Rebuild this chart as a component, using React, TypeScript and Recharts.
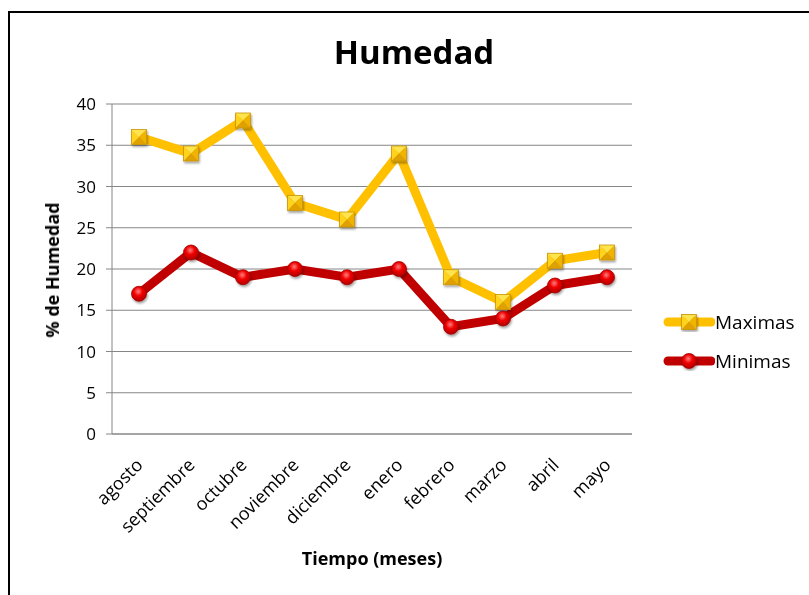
import React from "react";
import { LineChart, Line, XAxis, YAxis, CartesianGrid } from "recharts";

const months = ["agosto", "septiembre", "octubre", "noviembre", "diciembre", "enero", "febrero", "marzo", "abril", "mayo"];
const maximas = [36, 34, 38, 28, 26, 34, 19, 16, 21, 22];
const minimas = [17, 22, 19, 20, 19, 20, 13, 14, 18, 19];
const yTicks = [0, 5, 10, 15, 20, 25, 30, 35, 40];
const seriesNames = ["Maximas", "Minimas"];

const data = months.map((m, i) => ({ mes: m, Maximas: maximas[i], Minimas: minimas[i] }));

const FONT = "'Open Sans', 'Noto Sans', sans-serif";
const YELLOW = "#FFC000";
const RED = "#C00000";

const SquareMark = ({ cx, cy, s = 7.5 }: { cx: number; cy: number; s?: number }) => (
  <g filter="url(#shadow)">
    <polygon points={`${cx - s},${cy - s} ${cx + s},${cy - s} ${cx},${cy}`} fill="#FFE44D" />
    <polygon points={`${cx - s},${cy - s} ${cx - s},${cy + s} ${cx},${cy}`} fill="#FFD21A" />
    <polygon points={`${cx + s},${cy - s} ${cx + s},${cy + s} ${cx},${cy}`} fill="#F0B400" />
    <polygon points={`${cx - s},${cy + s} ${cx + s},${cy + s} ${cx},${cy}`} fill="#E0A000" />
    <rect x={cx - s} y={cy - s} width={2 * s} height={2 * s} fill="none" stroke="#C99400" strokeWidth={0.8} />
  </g>
);

const CircleMark = ({ cx, cy, r = 7.5 }: { cx: number; cy: number; r?: number }) => (
  <g filter="url(#shadow)">
    <circle cx={cx} cy={cy} r={r} fill="url(#redGrad)" stroke="#A00000" strokeWidth={0.8} />
  </g>
);

const Defs = () => (
  <defs>
    <radialGradient id="redGrad" cx="45%" cy="35%" r="65%">
      <stop offset="0%" stopColor="#FF8080" />
      <stop offset="45%" stopColor="#F00000" />
      <stop offset="100%" stopColor="#B00000" />
    </radialGradient>
    <filter id="shadow" x="-50%" y="-50%" width="200%" height="200%">
      <feDropShadow dx="1" dy="2" stdDeviation="1.2" floodColor="#000" floodOpacity="0.35" />
    </filter>
  </defs>
);

const XTick = (props: any) => {
  const { x, y, payload } = props;
  const ax = x + 5;
  const ay = y + 24;
  return (
    <text x={ax} y={ay} textAnchor="end" transform={`rotate(-45, ${ax}, ${ay})`} fontSize={18} fontFamily={FONT} fill="#000">
      {payload.value}
    </text>
  );
};

const LegendBox = () => (
  <div style={{ position: "absolute", left: 655, top: 294, fontFamily: FONT, fontSize: 19, color: "#000" }}>
    {seriesNames.map((name, i) => (
      <div key={name} style={{ display: "flex", alignItems: "center", height: 39 }}>
        <svg width={52} height={20}>
          <line x1={5} y1={10} x2={48} y2={10} stroke={i === 0 ? YELLOW : RED} strokeWidth={9} strokeLinecap="round" />
          {i === 0 ? <SquareMark cx={26} cy={10} /> : <CircleMark cx={26} cy={10} />}
        </svg>
        <span>{name}</span>
      </div>
    ))}
  </div>
);

export default function App() {
  return (
    <div style={{ position: "relative", width: 801, height: 579, overflow: "hidden", background: "#fff" }}>
      <svg width={0} height={0} style={{ position: "absolute" }}>
        <Defs />
      </svg>
      <div
        style={{
          position: "fixed",
          left: 8,
          top: 11,
          width: 830,
          height: 620,
          border: "2px solid #000",
          boxSizing: "border-box",
        }}
      />
      <div
        style={{
          position: "absolute",
          left: 0,
          width: 812,
          top: 22,
          textAlign: "center",
          fontFamily: FONT,
          fontWeight: "bold",
          fontSize: 33,
          lineHeight: "44px",
        }}
      >
        Humedad
      </div>
      <div
        style={{
          position: "absolute",
          left: 44,
          top: 262,
          transform: "translate(-50%, -50%) rotate(-90deg)",
          whiteSpace: "nowrap",
          fontFamily: FONT,
          fontWeight: "bold",
          fontSize: 18,
        }}
      >
        % de Humedad
      </div>
      <div
        style={{
          position: "absolute",
          left: 364,
          top: 550,
          transform: "translate(-50%, -50%)",
          whiteSpace: "nowrap",
          fontFamily: FONT,
          fontWeight: "bold",
          fontSize: 18,
        }}
      >
        Tiempo (meses)
      </div>
      <div style={{ position: "absolute", left: 0, top: 0 }}>
        <LineChart width={801} height={579} data={data} margin={{ top: 96, right: 177, left: 0, bottom: 53 }}>
          <Defs />
          <CartesianGrid horizontal vertical={false} stroke="#868686" strokeWidth={1} />
          <XAxis
            dataKey="mes"
            height={100}
            interval={0}
            padding={{ left: 27, right: 25 }}
            tick={<XTick />}
            tickLine={false}
            axisLine={{ stroke: "#868686" }}
          />
          <YAxis
            width={104}
            domain={[0, 40]}
            ticks={yTicks}
            interval={0}
            tickSize={6}
            tickMargin={10}
            tickLine={{ stroke: "#868686" }}
            axisLine={{ stroke: "#868686" }}
            tick={{ fontSize: 17, fontFamily: FONT, fill: "#000" }}
          />
          <Line
            type="linear"
            dataKey="Maximas"
            stroke={YELLOW}
            strokeWidth={9}
            isAnimationActive={false}
            dot={(p: any) => <SquareMark key={`s${p.index}`} cx={p.cx} cy={p.cy} />}
            activeDot={false}
          />
          <Line
            type="linear"
            dataKey="Minimas"
            stroke={RED}
            strokeWidth={9}
            isAnimationActive={false}
            dot={(p: any) => <CircleMark key={`c${p.index}`} cx={p.cx} cy={p.cy} />}
            activeDot={false}
          />
        </LineChart>
      </div>
      <LegendBox />
    </div>
  );
}
